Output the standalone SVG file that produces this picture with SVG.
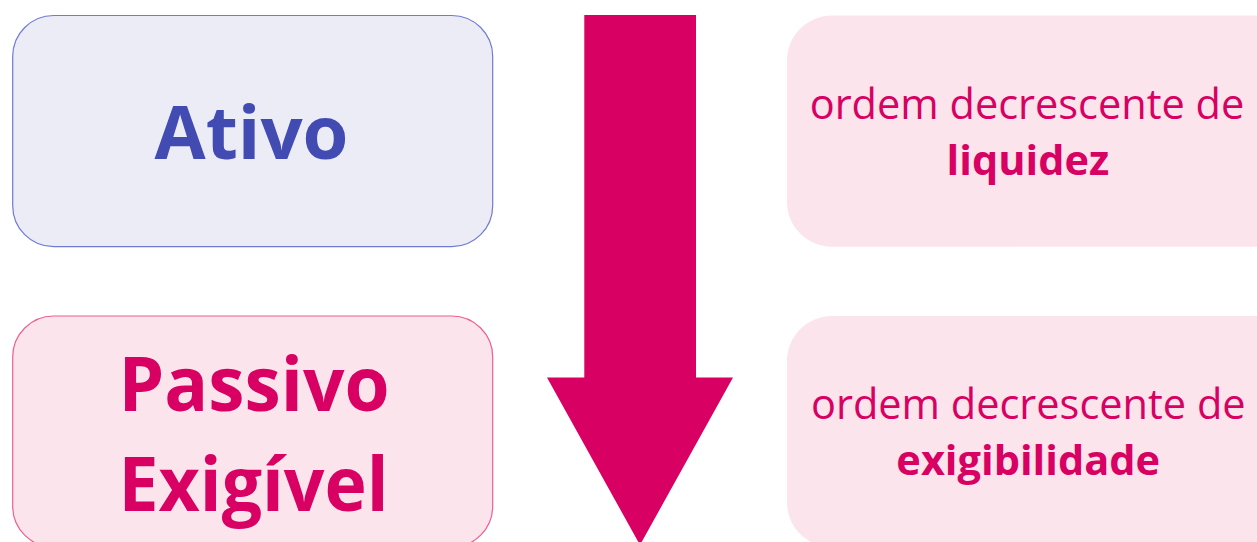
<svg xmlns="http://www.w3.org/2000/svg" width="1257" height="542" viewBox="0 0 1257 542">
<style>
.t{font-family:"Open Sans","Noto Sans",sans-serif;text-anchor:middle}
.big{font-weight:700}
.sm{font-size:41.5px;fill:#D80062}
.b{font-weight:700}
</style>
<rect width="1257" height="542" fill="#ffffff"/>
<g id="ativo">
<rect x="12.7" y="15.5" width="480" height="231.2" rx="41" fill="#ECECF7" stroke="#6F7BD0" stroke-width="1.2"/>
<text class="t big" x="251.5" y="159" font-size="73" fill="#414BB2" textLength="194" lengthAdjust="spacingAndGlyphs">Ativo</text>
</g>
<g id="passivo">
<rect x="12.7" y="316" width="480" height="231.2" rx="41" fill="#FCE4EC" stroke="#EC5E94" stroke-width="1.2"/>
<text class="t big" x="254" y="411" font-size="76" fill="#D80062" textLength="271" lengthAdjust="spacingAndGlyphs">Passivo</text>
<text class="t big" x="253.5" y="510.5" font-size="76" fill="#D80062" textLength="270" lengthAdjust="spacingAndGlyphs">Exigível</text>
</g>
<g id="liquidez">
<rect x="787" y="15.5" width="520" height="231.2" rx="45" fill="#FCE4EC"/>
<text class="t sm" x="1027" y="118.5">ordem decrescente de</text>
<text class="t sm b" x="1027.9" y="175">liquidez</text>
</g>
<g id="exigibilidade">
<rect x="787" y="316" width="520" height="231.2" rx="45" fill="#FCE4EC"/>
<text class="t sm" x="1028.3" y="419.3">ordem decrescente de</text>
<text class="t sm b" x="1028.2" y="475">exigibilidade</text>
</g>
<g id="connectors">
<polygon points="584.3,15 696,15 696,377.5 733,377.5 640,545 547,377.5 584.3,377.5" fill="#D80062"/>
</g>
</svg>
